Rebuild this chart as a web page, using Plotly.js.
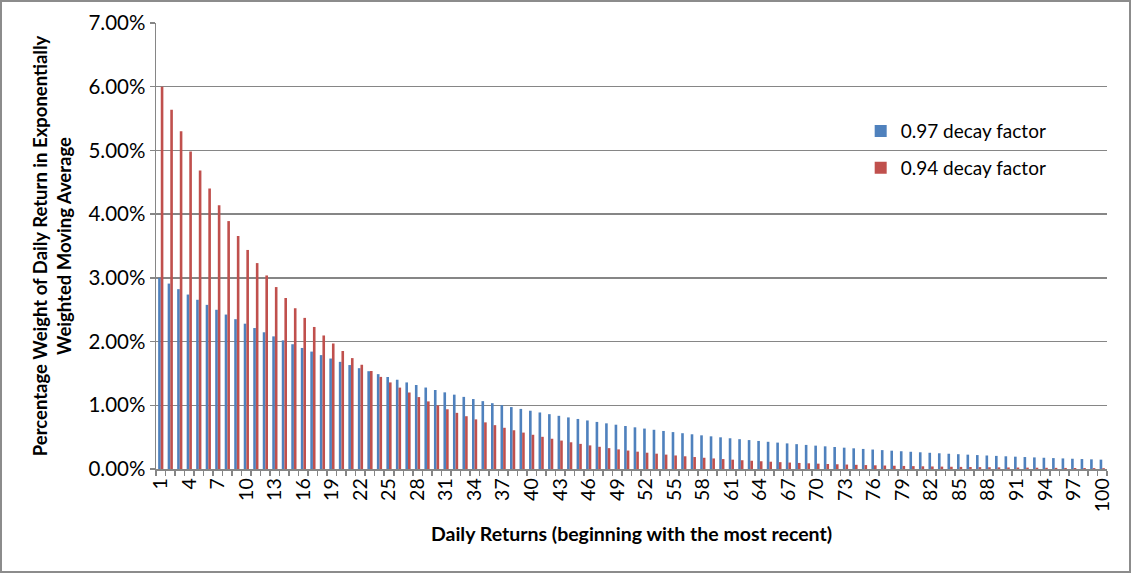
<!DOCTYPE html>
<html>
<head>
<meta charset="utf-8">
<script src="https://cdn.plot.ly/plotly-3.0.1.min.js"></script>
<style>
  body { margin: 0; background: #fff; }
  #frame { width: 1131px; height: 573px; box-sizing: border-box; border: 2px solid #8c8c8c; }
  #graph { width: 1127px; height: 569px; }
</style>
</head>
<body>
<div id="frame"><div id="graph"></div></div>
<script>
// Day number, beginning with the most recent return
const DAYS = [
  1, 2, 3, 4, 5, 6, 7, 8, 9, 10, 11, 12, 13, 14, 15, 16, 17, 18, 19, 20,
  21, 22, 23, 24, 25, 26, 27, 28, 29, 30, 31, 32, 33, 34, 35, 36, 37, 38, 39, 40,
  41, 42, 43, 44, 45, 46, 47, 48, 49, 50, 51, 52, 53, 54, 55, 56, 57, 58, 59, 60,
  61, 62, 63, 64, 65, 66, 67, 68, 69, 70, 71, 72, 73, 74, 75, 76, 77, 78, 79, 80,
  81, 82, 83, 84, 85, 86, 87, 88, 89, 90, 91, 92, 93, 94, 95, 96, 97, 98, 99, 100
];

// Weight in percent, 0.97 decay factor
const W97 = [
  3.0000, 2.9100, 2.8227, 2.7380, 2.6559, 2.5762, 2.4989, 2.4240, 2.3512, 2.2807,
  2.2123, 2.1459, 2.0815, 2.0191, 1.9585, 1.8997, 1.8427, 1.7875, 1.7338, 1.6818,
  1.6314, 1.5824, 1.5350, 1.4889, 1.4442, 1.4009, 1.3589, 1.3181, 1.2786, 1.2402,
  1.2030, 1.1669, 1.1319, 1.0980, 1.0650, 1.0331, 1.0021, 0.9720, 0.9429, 0.9146,
  0.8872, 0.8605, 0.8347, 0.8097, 0.7854, 0.7618, 0.7390, 0.7168, 0.6953, 0.6745,
  0.6542, 0.6346, 0.6156, 0.5971, 0.5792, 0.5618, 0.5450, 0.5286, 0.5127, 0.4974,
  0.4824, 0.4680, 0.4539, 0.4403, 0.4271, 0.4143, 0.4019, 0.3898, 0.3781, 0.3668,
  0.3558, 0.3451, 0.3347, 0.3247, 0.3150, 0.3055, 0.2963, 0.2875, 0.2788, 0.2705,
  0.2624, 0.2545, 0.2469, 0.2395, 0.2323, 0.2253, 0.2186, 0.2120, 0.2057, 0.1995,
  0.1935, 0.1877, 0.1821, 0.1766, 0.1713, 0.1662, 0.1612, 0.1564, 0.1517, 0.1471
];

// Weight in percent, 0.94 decay factor
const W94 = [
  6.0000, 5.6400, 5.3016, 4.9835, 4.6845, 4.4034, 4.1392, 3.8909, 3.6574, 3.4380,
  3.2317, 3.0378, 2.8555, 2.6842, 2.5231, 2.3717, 2.2294, 2.0957, 1.9699, 1.8517,
  1.7406, 1.6362, 1.5380, 1.4457, 1.3590, 1.2774, 1.2008, 1.1288, 1.0610, 0.9974,
  0.9375, 0.8813, 0.8284, 0.7787, 0.7320, 0.6881, 0.6468, 0.6080, 0.5715, 0.5372,
  0.5050, 0.4747, 0.4462, 0.4194, 0.3943, 0.3706, 0.3484, 0.3275, 0.3078, 0.2894,
  0.2720, 0.2557, 0.2404, 0.2259, 0.2124, 0.1996, 0.1877, 0.1764, 0.1658, 0.1559,
  0.1465, 0.1377, 0.1295, 0.1217, 0.1144, 0.1075, 0.1011, 0.0950, 0.0893, 0.0840,
  0.0789, 0.0742, 0.0698, 0.0656, 0.0616, 0.0579, 0.0545, 0.0512, 0.0481, 0.0452,
  0.0425, 0.0400, 0.0376, 0.0353, 0.0332, 0.0312, 0.0293, 0.0276, 0.0259, 0.0244,
  0.0229, 0.0215, 0.0202, 0.0190, 0.0179, 0.0168, 0.0158, 0.0149, 0.0140, 0.0131
];

// Labelled days on the x axis
const X_TICKS = [
  1, 4, 7, 10, 13, 16, 19, 22, 25, 28, 31, 34, 37, 40, 43, 46, 49, 52, 55, 58,
  61, 64, 67, 70, 73, 76, 79, 82, 85, 88, 91, 94, 97, 100
];

const FONT = 'Lato, "Open Sans", sans-serif';
const GRID = '#868686';

const traces = [
  {
    type: 'bar', name: '0.97 decay factor', x: DAYS, y: W97,
    marker: { color: '#4F81BD' }, legendgroup: 'a', hoverinfo: 'x+y'
  },
  {
    type: 'bar', name: '0.94 decay factor', x: DAYS, y: W94,
    marker: { color: '#C0504D' }, legendgroup: 'b', hoverinfo: 'x+y'
  }
];

const layout = {
  width: 1127, height: 569,
  margin: { l: 154, r: 22, t: 21, b: 102 },
  paper_bgcolor: '#ffffff', plot_bgcolor: '#ffffff',
  barmode: 'group', bargap: 0.45, bargroupgap: 0,
  font: { family: FONT, color: '#000', size: 18 },
  xaxis: {
    range: [0.5, 100.5],
    tickmode: 'array', tickvals: X_TICKS, ticktext: X_TICKS.map(String),
    tickangle: -90, ticks: '',
    tickfont: { size: 19.5 },
    minor: { tickmode: 'linear', tick0: 0.5, dtick: 1, ticks: 'outside', ticklen: 5, tickcolor: GRID, tickwidth: 1.5 },
    showgrid: false, zeroline: false,
    showline: true, linecolor: GRID, linewidth: 1.5,
    title: { text: '<b>Daily Returns (beginning with the most recent)</b>', font: { size: 19.5 }, standoff: 16 }
  },
  yaxis: {
    range: [0, 7], dtick: 1, tickformat: '.2f', ticksuffix: '%',
    ticks: 'outside', ticklen: 5, tickcolor: GRID, tickwidth: 1.5,
    tickfont: { size: 20.5 },
    showgrid: true, gridcolor: GRID, gridwidth: 1.5,
    zeroline: false, showline: true, linecolor: GRID, linewidth: 1.5,
    title: {
      text: '<b>Percentage Weight of Daily Return in Exponentially<br>Weighted Moving Average</b>',
      font: { size: 18.5 }, standoff: 12
    }
  },
  showlegend: true,
  legend: {
    x: 0.741, y: 0.80, xanchor: 'left', yanchor: 'top',
    bgcolor: 'rgba(0,0,0,0)', font: { size: 19 },
    traceorder: 'grouped', tracegroupgap: 9
  }
};

Plotly.newPlot('graph', traces, layout, { displayModeBar: false, staticPlot: true });
</script>
</body>
</html>
